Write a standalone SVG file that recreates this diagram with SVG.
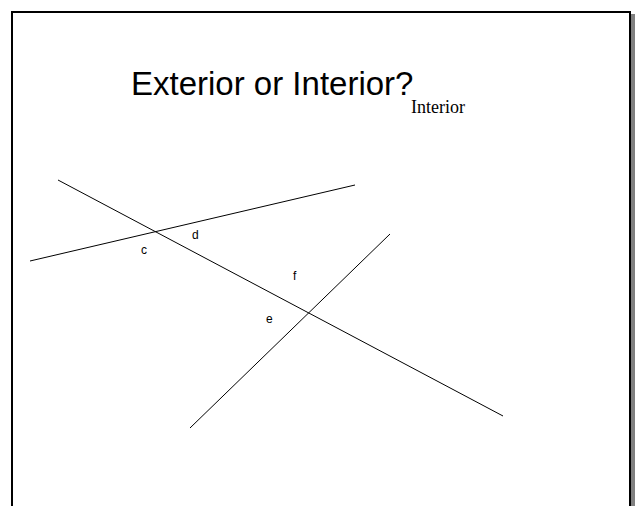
<svg xmlns="http://www.w3.org/2000/svg" width="639" height="506" viewBox="0 0 639 506">
<style>
.ln{stroke:#000;stroke-width:1;fill:none}
.lbl{font-family:"Liberation Sans",Arial,sans-serif;font-size:12px;fill:#000}
</style>
<rect width="639" height="506" fill="#fff"/>
<g id="frame">
<rect x="631" y="14" width="4" height="492" fill="#808080"/>
<path d="M12 506 V12 H630 V506" fill="none" stroke="#000" stroke-width="2"/>
</g>
<text id="title" x="131" y="95" font-family="'Liberation Sans',Arial,sans-serif" font-size="33">Exterior or Interior?</text>
<text id="answer" x="411" y="113" font-family="'Liberation Serif','Times New Roman',serif" font-size="18">Interior</text>
<g id="connectors">
<line class="ln" x1="58" y1="180" x2="503" y2="416"/>
<line class="ln" x1="30" y1="261" x2="355" y2="185"/>
<line class="ln" x1="190" y1="428" x2="390" y2="234"/>
</g>
<g id="label-c"><text class="lbl" x="141" y="254">c</text></g>
<g id="label-d"><text class="lbl" x="192" y="239">d</text></g>
<g id="label-f"><text class="lbl" x="293" y="280">f</text></g>
<g id="label-e"><text class="lbl" x="266" y="323">e</text></g>
</svg>
